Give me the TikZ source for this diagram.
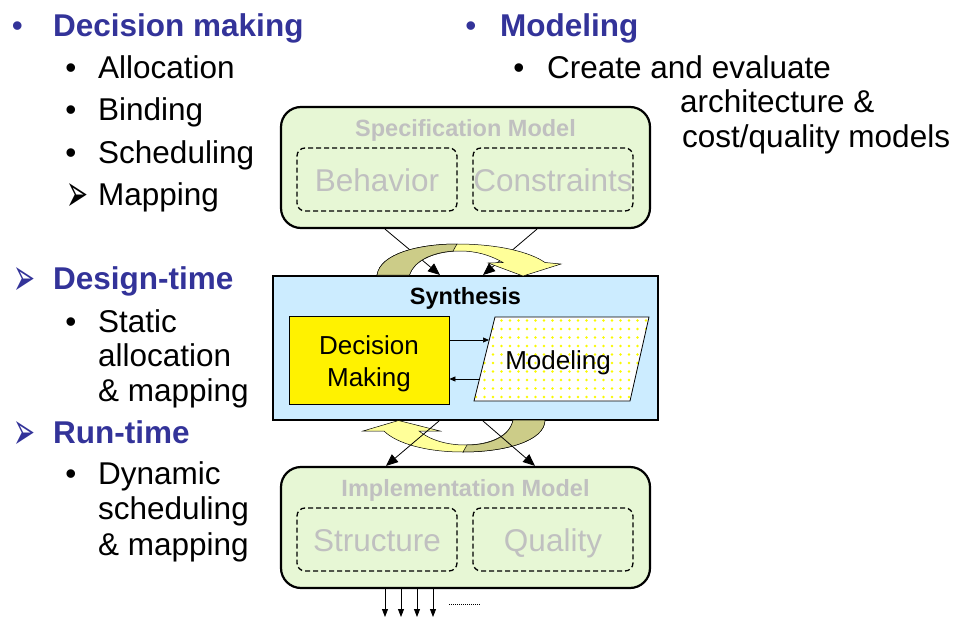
\documentclass[tikz,border=0pt]{standalone}
\usepackage{fontspec}
\setmainfont{Liberation Sans}
\newfontfamily\dvfont{DejaVu Sans}
\usetikzlibrary{arrows.meta,calc,patterns.meta}
\definecolor{hblue}{RGB}{51,51,153}
\definecolor{gtxt}{RGB}{192,192,192}
\definecolor{mfill}{RGB}{231,247,213}
\definecolor{sblue}{RGB}{204,236,255}
\definecolor{olivec}{RGB}{204,204,136}
\definecolor{lyel}{RGB}{255,255,153}
\definecolor{dotyel}{RGB}{250,250,0}
\newcommand{\arrbul}{\scalebox{1.05}[2.1]{\dvfont ➢}}
\tikzset{
  txt/.style={anchor=base west, inner sep=0pt, font=\fontsize{31.5}{36}\selectfont},
  head/.style={txt, font=\fontsize{31.5}{36}\selectfont\bfseries, text=hblue},
  bul/.style={anchor=base, inner sep=0pt, font=\fontsize{31.5}{36}\selectfont},
  abul/.style={anchor=base west, inner sep=0pt, font=\fontsize{25}{30}\selectfont},
  mbox/.style={draw, line width=2.2pt, rounded corners=20pt, fill=mfill, inner sep=0pt},
  dbox/.style={draw, line width=1.3pt, dash pattern=on 5pt off 3pt, rounded corners=8pt,
     inner sep=0pt, text=gtxt, text height=23pt, text depth=0pt,
     font=\fontsize{31.5}{36}\selectfont},
  mtitle/.style={anchor=base, inner sep=0pt, text=gtxt, font=\fontsize{23.5}{28}\selectfont\bfseries},
  conn/.style={line width=0.8pt, -{Triangle[length=12pt,width=10pt]}},
  small/.style={line width=0.7pt, -{Triangle[length=6pt,width=5pt]}},
  ribbon/.style={draw=black, line width=0.5pt}
}
\begin{document}
\begin{tikzpicture}[x=1pt,y=-1pt]
\useasboundingbox (0,0) rectangle (956,618);

% ---------- left texts ----------
\node[bul,text=hblue] (b1) at (17.5,37) {•};
\node[head] (h1) at (53,37) {Decision making};
\node[bul] (b2) at (71,78.5) {•};
\node[txt] (t1) at (98,78.5) {Allocation};
\node[bul] (b3) at (71,121) {•};
\node[txt] (t2) at (98,121) {Binding};
\node[bul] (b4) at (71,163.5) {•};
\node[txt] (t3) at (98,163.5) {Scheduling};
\node[abul] (a1) at (66,211) {\arrbul};
\node[txt] (t4) at (98,205.5) {Mapping};

\node[abul,text=hblue] (a2) at (13,295) {\arrbul};
\node[head] (h2) at (53,289.5) {Design-time};
\node[bul] (b5) at (71,332) {•};
\node[txt] (t5) at (98,332) {Static};
\node[txt] (t6) at (98,366.5) {allocation};
\node[txt] (t7) at (98,401) {\& mapping};
\node[abul,text=hblue] (a3) at (13,449) {\arrbul};
\node[head] (h3) at (53,443) {Run-time};
\node[bul] (b6) at (71,484) {•};
\node[txt] (t8) at (98,484) {Dynamic};
\node[txt] (t9) at (98,519) {scheduling};
\node[txt] (t10) at (98,555.5) {\& mapping};

% ---------- right texts ----------
\node[bul,text=hblue] (b7) at (471,37) {•};
\node[head] (h4) at (500,37) {Modeling};
\node[bul] (b8) at (519,78) {•};
\node[txt] (t11) at (547,78) {Create and evaluate};
\node[txt] (t12) at (680,113) {architecture \&};
\node[txt] (t13) at (682,147) {cost/quality models};

% ---------- specification model ----------
\node[mbox, minimum width=369pt, minimum height=121pt] (spec) at (465.5,167.5) {};
\node[mtitle] (spect) at (465.5,136) {Specification Model};
\node[dbox, minimum width=160pt, minimum height=63pt] (beh) at (377,179.5) {Behavior};
\node[dbox, minimum width=160pt, minimum height=63pt] (con) at (553,179.5) {Constraints};

% ---------- implementation model ----------
\node[mbox, minimum width=369pt, minimum height=121pt] (impl) at (465.5,527.5) {};
\node[mtitle] (implt) at (465.5,496) {Implementation Model};
\node[dbox, minimum width=160pt, minimum height=63pt] (str) at (377,539.5) {Structure};
\node[dbox, minimum width=160pt, minimum height=63pt] (qua) at (553,539.5) {Quality};

% ---------- synthesis ----------
\node[draw, line width=2pt, fill=sblue, minimum width=385pt, minimum height=144pt, inner sep=0pt] (synth) at (465.5,348) {};
\node[anchor=base, inner sep=0pt, font=\fontsize{23.5}{28}\selectfont\bfseries] (synt) at (465.5,304.3) {Synthesis};
\node[draw, line width=0.8pt, fill=yellow, minimum width=160pt, minimum height=88pt, inner sep=0pt] (dm) at (369,360) {};
\node[align=center, inner sep=0pt, font=\fontsize{26}{31.7}\selectfont] (dmt) at (369,364) {Decision\\Making};
\path[draw=black, line width=0.8pt, preaction={fill=white},
      pattern={Dots[radius=1.3pt, distance=8.5pt]}, pattern color=dotyel]
  (495,317) -- (649,317) -- (630,401) -- (474,401) -- cycle;
\node[anchor=base, inner sep=0pt, font=\fontsize{26}{31}\selectfont] (mod) at (558,369.3) {Modeling};
\coordinate (mA) at (489,340);
\coordinate (mB) at (480,379);
\draw[small] ($(dm.east)+(0,-20)$) -- (mA);
\draw[small] (mB) -- ($(dm.east)+(0,19)$);

% ---------- spec -> synthesis ----------
\draw[conn] ($(spec.south)+(-80.5,0)$) -- ($(synth.north)+(-25.5,0)$);
\draw[conn] ($(spec.south)+(71.5,0)$) -- ($(synth.north)+(17.5,0)$);

% top ribbon arrow
\path[ribbon, fill=lyel]
  (377,275) .. controls (380,254) and (418,244) .. (457,244)
  .. controls (498,244) and (530,252) .. (545,262.5) -- (561,264) -- (523,276) -- (488,263) -- (503,262.5)
  .. controls (490,255) and (476,251) .. (460,251)
  .. controls (436,251) and (414,260) .. (409.5,275) -- cycle;
\path[ribbon, fill=olivec]
  (377,275) .. controls (380,254) and (418,244) .. (457,244) -- (453,251.1)
  .. controls (432,252.5) and (414,261) .. (409.5,275) -- cycle;

% bottom ribbon arrow
\path[ribbon, fill=lyel]
  (545,420) .. controls (545,441) and (505,452) .. (463,452)
  .. controls (425,452) and (396,443) .. (384,431) -- (363,431) -- (398.5,420.5) -- (440,431) -- (419,431)
  .. controls (430,440) and (447,445) .. (465,445)
  .. controls (490,445) and (510,436) .. (513,420) -- cycle;
\path[ribbon, fill=olivec]
  (545,420) .. controls (545,441) and (505,452) .. (463,452) -- (467,445)
  .. controls (491,445) and (510,436) .. (513,420) -- cycle;

% ---------- synthesis -> implementation ----------
\draw[conn] ($(synth.south)+(-26.5,0)$) -- ($(impl.north)+(-79.5,0)$);
\draw[conn] ($(synth.south)+(17.5,0)$) -- ($(impl.north)+(69.5,0)$);

% ---------- outputs ----------
\coordinate (o1) at (385,617);
\coordinate (o2) at (401,617);
\coordinate (o3) at (417,617);
\coordinate (o4) at (433,617);
\foreach \o in {o1,o2,o3,o4}
  \draw[line width=0.8pt, -{Triangle[length=8pt,width=6pt]}] (impl.south -| \o) -- (\o);
\coordinate (d1) at (449,604);
\coordinate (d2) at (480,604);
\draw[line width=0.8pt, dash pattern=on 0.8pt off 1.2pt] (d1) -- (d2);
\end{tikzpicture}
\end{document}
